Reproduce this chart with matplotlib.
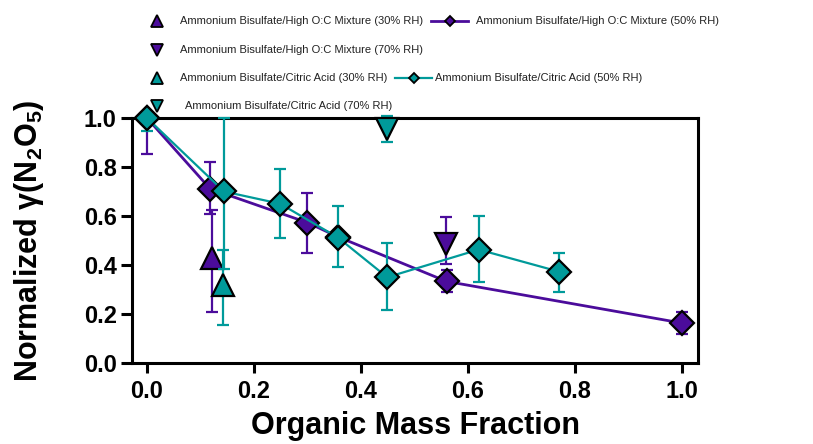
import matplotlib
matplotlib.use("Agg")
import matplotlib.pyplot as plt
from matplotlib.lines import Line2D
import numpy as np

plt.rcParams['font.family'] = ['Liberation Sans', 'DejaVu Sans']
plt.rcParams['mathtext.fontset'] = 'custom'
plt.rcParams['mathtext.rm'] = 'Liberation Sans:bold'
plt.rcParams['mathtext.bf'] = 'Liberation Sans:bold'
plt.rcParams['mathtext.it'] = 'Liberation Sans:bold'

PURPLE = '#4B0C9B'
TEAL = '#009A9A'

# ---- data ----
# Ammonium Bisulfate / High O:C Mixture, 50% RH
hoc50_x = [0.0, 0.118, 0.300, 0.357, 0.560, 1.000]
hoc50_y = [1.000, 0.711, 0.573, 0.515, 0.333, 0.163]
hoc50_lo = [0.855, 0.610, 0.450, 0.515, 0.290, 0.118]
hoc50_hi = [1.000, 0.820, 0.695, 0.515, 0.380, 0.207]
# 30% RH
hoc30_x = [0.121]
hoc30_y = [0.430]
hoc30_lo = [0.210]
hoc30_hi = [0.625]
# 70% RH
hoc70_x = [0.559]
hoc70_y = [0.487]
hoc70_lo = [0.405]
hoc70_hi = [0.597]

# Ammonium Bisulfate / Citric Acid, 50% RH
ca50_x = [0.0, 0.144, 0.249, 0.357, 0.449, 0.620, 0.770]
ca50_y = [1.000, 0.700, 0.650, 0.512, 0.350, 0.463, 0.373]
ca50_lo = [0.945, 0.385, 0.510, 0.390, 0.215, 0.330, 0.290]
ca50_hi = [1.000, 1.000, 0.790, 0.640, 0.488, 0.598, 0.450]
# 30% RH
ca30_x = [0.143]
ca30_y = [0.318]
ca30_lo = [0.155]
ca30_hi = [0.460]
# 70% RH
ca70_x = [0.449]
ca70_y = [0.955]
ca70_lo = [0.900]
ca70_hi = [1.010]

xticks = [0.0, 0.2, 0.4, 0.6, 0.8, 1.0]
yticks = [0.0, 0.2, 0.4, 0.6, 0.8, 1.0]
tick_labels_x = ['0.0', '0.2', '0.4', '0.6', '0.8', '1.0']
tick_labels_y = ['0.0', '0.2', '0.4', '0.6', '0.8', '1.0']

labels = {
    'hoc30': 'Ammonium Bisulfate/High O:C Mixture (30% RH)',
    'hoc50': 'Ammonium Bisulfate/High O:C Mixture (50% RH)',
    'hoc70': 'Ammonium Bisulfate/High O:C Mixture (70% RH)',
    'ca30': 'Ammonium Bisulfate/Citric Acid (30% RH)',
    'ca50': 'Ammonium Bisulfate/Citric Acid (50% RH)',
    'ca70': 'Ammonium Bisulfate/Citric Acid (70% RH)',
}

W, H = 813, 444
fig = plt.figure(figsize=(W / 100, H / 100), dpi=100)
ax = fig.add_axes([132 / W, 1 - 363 / H, (698 - 132) / W, (363 - 118) / H])
ax.set_xlim(-0.028, 1.03)
ax.set_ylim(0, 1.0)

ERR_LW = 1.6
CAP = 4.5
DS = 12.5
TS = 16


def err(ax, x, y, lo, hi, color, z):
    y = np.asarray(y)
    lo = np.asarray(lo)
    hi = np.asarray(hi)
    e = ax.errorbar(x, y, yerr=[y - lo, hi - y], fmt='none', ecolor=color,
                    elinewidth=ERR_LW, capsize=CAP, capthick=ERR_LW, zorder=z)
    for a in e.lines[1] + e.lines[2]:
        a.set_clip_on(False)
    return e


# purple 50%
err(ax, hoc50_x, hoc50_y, hoc50_lo, hoc50_hi, PURPLE, 2)
ax.plot(hoc50_x, hoc50_y, color=PURPLE, lw=2.0, marker='D', ms=DS, mfc=PURPLE,
        mec='black', mew=1.6, zorder=3, clip_on=False)
# purple 30%
err(ax, hoc30_x, hoc30_y, hoc30_lo, hoc30_hi, PURPLE, 2)
ax.plot(hoc30_x, hoc30_y, ls='none', marker='^', ms=TS, mfc=PURPLE,
        mec='black', mew=1.6, zorder=3, clip_on=False)
# purple 70%
err(ax, hoc70_x, hoc70_y, hoc70_lo, hoc70_hi, PURPLE, 2)
ax.plot(hoc70_x, hoc70_y, ls='none', marker='v', ms=TS, mfc=PURPLE,
        mec='black', mew=1.6, zorder=3, clip_on=False)

# teal 50%
err(ax, ca50_x, ca50_y, ca50_lo, ca50_hi, TEAL, 4)
ax.plot(ca50_x, ca50_y, color=TEAL, lw=1.6, marker='D', ms=DS, mfc=TEAL,
        mec='black', mew=1.6, zorder=5, clip_on=False)
# teal 30%
err(ax, ca30_x, ca30_y, ca30_lo, ca30_hi, TEAL, 4)
ax.plot(ca30_x, ca30_y, ls='none', marker='^', ms=TS, mfc=TEAL,
        mec='black', mew=1.6, zorder=5, clip_on=False)
# teal 70%
err(ax, ca70_x, ca70_y, ca70_lo, ca70_hi, TEAL, 4)
ax.plot(ca70_x, ca70_y, ls='none', marker='v', ms=TS, mfc=TEAL,
        mec='black', mew=1.6, zorder=5, clip_on=False)

# axes style
for s in ax.spines.values():
    s.set_linewidth(2.2)
    s.set_zorder(1)
ax.set_xticks(xticks)
ax.set_xticklabels(tick_labels_x)
ax.set_yticks(yticks)
ax.set_yticklabels(tick_labels_y)
ax.tick_params(axis='both', direction='out', length=7, width=2.2,
               labelsize=17, pad=5)
ax.tick_params(axis='y', length=8, pad=3)
for t in ax.get_xticklabels() + ax.get_yticklabels():
    t.set_fontweight('bold')
ax.set_xlabel('Organic Mass Fraction', fontsize=22, fontweight='bold')
ax.set_ylabel(r'Normalized $\gamma$(N$_2$O$_5$)', fontsize=22, fontweight='bold')
ax.xaxis.set_label_coords(0.5, -(426 - 363) / (363 - 118))
ax.xaxis.label.set_va('center')
ax.yaxis.set_label_coords(-(132 - 29) / (698 - 132), 0.5)
ax.yaxis.label.set_va('center')


# ---- legend drawn in figure pixels ----
def fx(px):
    return px / W


def fy(py):
    return 1 - py / H


LFS = 8


def legend_marker(px, py, marker, color):
    fig.add_artist(Line2D([fx(px)], [fy(py)], transform=fig.transFigure, ls='none',
                          marker=marker, ms=8.5, mfc=color, mec='black', mew=1.3))


def legend_line(px0, px1, py, color, lw):
    fig.add_artist(Line2D([fx(px0), fx(px1)], [fy(py), fy(py)], transform=fig.transFigure,
                          color=color, lw=lw))
    fig.add_artist(Line2D([fx((px0 + px1) / 2)], [fy(py)], transform=fig.transFigure,
                          ls='none', marker='D', ms=5.5, mfc=color, mec='black', mew=1.3))


def legend_text(px, py, s):
    fig.text(fx(px), fy(py), s, fontsize=LFS, ha='left', va='center', color='#222222')


legend_marker(157, 21, '^', PURPLE)
legend_text(180, 21, labels['hoc30'])
legend_line(431, 468, 21, PURPLE, 2.0)
legend_text(476, 21, labels['hoc50'])

legend_marker(157, 50, 'v', PURPLE)
legend_text(180, 50, labels['hoc70'])

legend_marker(157, 78, '^', TEAL)
legend_text(180, 78, labels['ca30'])
legend_line(395, 432, 78, TEAL, 1.6)
legend_text(435, 78, labels['ca50'])

legend_marker(157, 106, 'v', TEAL)
legend_text(185, 106, labels['ca70'])

fig.savefig('out.png', dpi=100)
